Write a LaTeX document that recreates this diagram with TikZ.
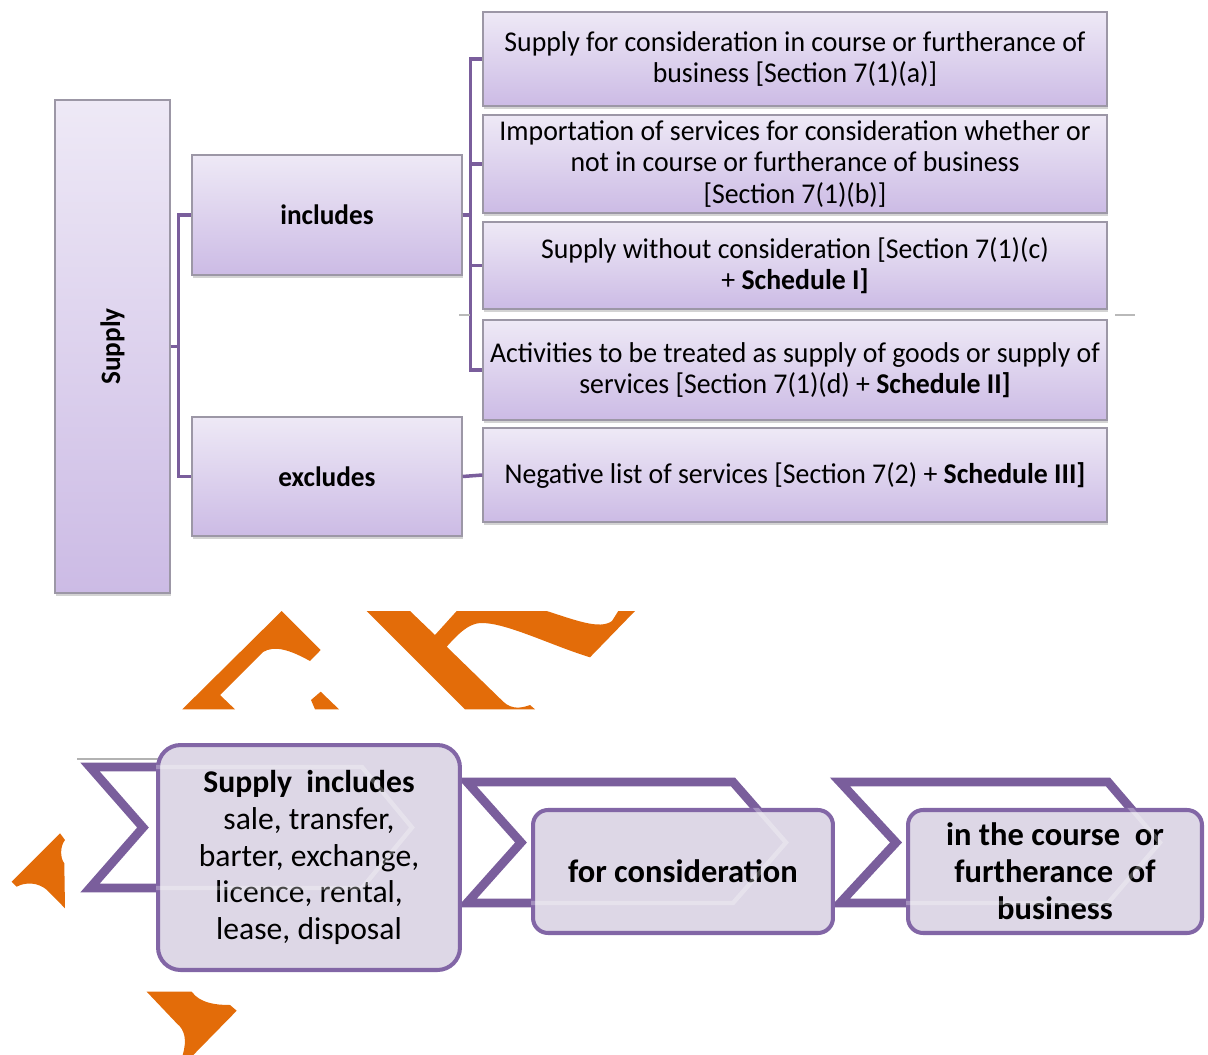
\documentclass[tikz,border=0pt]{standalone}
\usepackage{fontspec}
\setmainfont{Carlito}
\newfontfamily\narrowfont[FakeStretch=0.97]{Carlito}
\usepackage{tikz}
\usetikzlibrary{shadows}
\definecolor{plum}{HTML}{7A5E9C}
\definecolor{lavtop}{HTML}{EEE9F6}
\definecolor{lavbot}{HTML}{CCBBE5}
\definecolor{boxgray}{HTML}{9C97A6}
\definecolor{mist}{HTML}{DDD7E6}
\definecolor{stepline}{HTML}{8266A6}
\definecolor{blot}{HTML}{E36C09}
\tikzset{
  tbox/.style={draw=boxgray, top color=lavtop, bottom color=lavbot, line width=.8pt,
    inner sep=0pt, align=center, font=\narrowfont\fontsize{16.3}{18}\selectfont,
    drop shadow={shadow xshift=.5pt, shadow yshift=-1.5pt, opacity=.35}},
  link/.style={draw=plum, line width=2pt},
  chev/.style={draw=plum, fill=white, line width=5pt, line join=miter},
  stepbox/.style={draw=stepline, fill=mist, line width=2.3pt, align=center, inner sep=0pt,
    font=\fontsize{18}{20.8}\selectfont},
  ghost/.style={draw=white, draw opacity=.28, line width=2.5pt},
  blotch/.style={fill=blot, draw=none}
}

\begin{document}
\begin{tikzpicture}[x=0.02cm,y=-0.02cm]
  \useasboundingbox (0,0) rectangle (1208,1055);

  % supply tree
  \node[tbox,minimum width=2.3cm,minimum height=9.86cm,font=\narrowfont\bfseries\fontsize{16}{18}\selectfont]
    (supply) at (112.5,346.5) {\rotatebox{90}{Supply}};
  \node[tbox,minimum width=5.4cm,minimum height=2.4cm,font=\narrowfont\bfseries\fontsize{16}{18}\selectfont]
    (incl) at (327,215) {includes};
  \node[tbox,minimum width=5.4cm,minimum height=2.38cm,font=\narrowfont\bfseries\fontsize{16}{18}\selectfont]
    (excl) at (327,476.5) {excludes};

  \node[tbox,minimum width=12.48cm,minimum height=1.88cm] (r1) at (795,59)
    {Supply for consideration in course or furtherance of\\business [Section 7(1)(a)]};
  \node[tbox,minimum width=12.48cm,minimum height=1.96cm] (r2) at (795,164)
    {Importation of services for consideration whether or\\not in course or furtherance of business\\{}[Section 7(1)(b)]};
  \node[tbox,minimum width=12.48cm,minimum height=1.74cm] (r3) at (795,265.5)
    {Supply without consideration [Section 7(1)(c)\\+ \textbf{Schedule I]}};
  \node[tbox,minimum width=12.48cm,minimum height=2cm] (r4) at (795,370)
    {Activities to be treated as supply of goods or supply of\\services [Section 7(1)(d) + \textbf{Schedule II]}};
  \node[tbox,minimum width=12.48cm,minimum height=1.88cm] (r5) at (795,475)
    {Negative list of services [Section 7(2) + \textbf{Schedule III]}};

  \draw[link] (supply.east) -- ++(8,0) |- (incl.west);
  \draw[link] (supply.east) -- ++(8,0) |- (excl.west);
  \foreach \r in {r1,r2,r3,r4}
    \draw[link] (incl.east) -- ++(8,0) |- (\r.west);
  \draw[link] (excl.east) -- (r5.west);

  \draw[gray!55,line width=1pt] (459,315) -- (470,315);
  \draw[gray!55,line width=1pt] (1115,315) -- (1135,315);

  % orange pieces
  \fill[blotch] (182.3,709.3) -- (281.7,611) -- (320.7,650) -- (310,661)
    .. controls (290,650) and (275,645) .. (263,652) -- (220,695) -- (235,709.3) -- cycle;
  \fill[blotch] (311,700) -- (320.7,691.7) -- (339,709.3) -- (315,709.3) -- cycle;
  \fill[blotch] (366.7,611) -- (410,611) -- (435,635) -- (456.7,611) -- (546.7,611)
    .. controls (575,620) and (600,630) .. (612,621) -- (618.3,611) -- (635,611) -- (590,657.3)
    .. controls (550,645) and (505,622) .. (480,623)
    .. controls (468,624) and (458,634) .. (446.7,646.7) -- (503.3,701.7)
    .. controls (512,710) and (522,708) .. (530,705) -- (535,709.3) -- (465,709.3) -- cycle;
  \fill[blotch] (60,833.3) -- (11.7,881.7) -- (16.7,886.7)
    .. controls (25,882) and (38,882) .. (47,890) -- (65,908.3) -- (64.3,863.3)
    .. controls (60,858) and (60,846) .. (65,840) -- cycle;
  \fill[blotch] (146.7,991.7) -- (191.7,991.7) .. controls (200,1003) and (215,1005) .. (230,1005)
    -- (236.7,1010.7) -- (193.3,1055) -- (182.7,1055)
    .. controls (187,1040) and (185,1030) .. (176.7,1023.3) -- cycle;

  % chevrons
  \draw[gray!60,line width=1.2pt] (77,759) -- (160,759);
  \foreach \l/\n/\s/\t/\u/\d in {90/143/362/412/767/888, 467/521/733/786/782/903, 840/896/1108/1160/782/903}
    \draw[chev] (\l,\u) -- (\s,\u) -- (\t,{(\u+\d)/2}) -- (\s,\d) -- (\l,\d) -- (\n,{(\u+\d)/2}) -- cycle;

  \node[stepbox,minimum width=6.04cm,minimum height=4.5cm,rounded corners=.45cm] (b1) at (309,857.5)
    {\textbf{Supply\ \ includes}\\sale, transfer,\\barter, exchange,\\licence, rental,\\lease, disposal};
  \node[stepbox,minimum width=6cm,minimum height=2.46cm,rounded corners=.3cm,
    font=\bfseries\fontsize{18.5}{21.5}\selectfont] (b2) at (683,871.5) {for consideration};
  \node[stepbox,minimum width=5.88cm,minimum height=2.46cm,rounded corners=.3cm,
    font=\bfseries\fontsize{18.5}{21}\selectfont] (b3) at (1055,871.5)
    {in the course\ \ or\\furtherance\ \ of\\business};

  \foreach \b/\k/\l/\n/\s/\t/\u/\d in {b1/.45cm/90/143/362/412/767/888, b2/.3cm/467/521/733/786/782/903, b3/.3cm/840/896/1108/1160/782/903}{
    \begin{scope}
      \clip[rounded corners=\k] (\b.south west) rectangle (\b.north east);
      \draw[ghost] (\l,\u) -- (\s,\u) -- (\t,{(\u+\d)/2}) -- (\s,\d) -- (\l,\d);
    \end{scope}
  }
\end{tikzpicture}
\end{document}
